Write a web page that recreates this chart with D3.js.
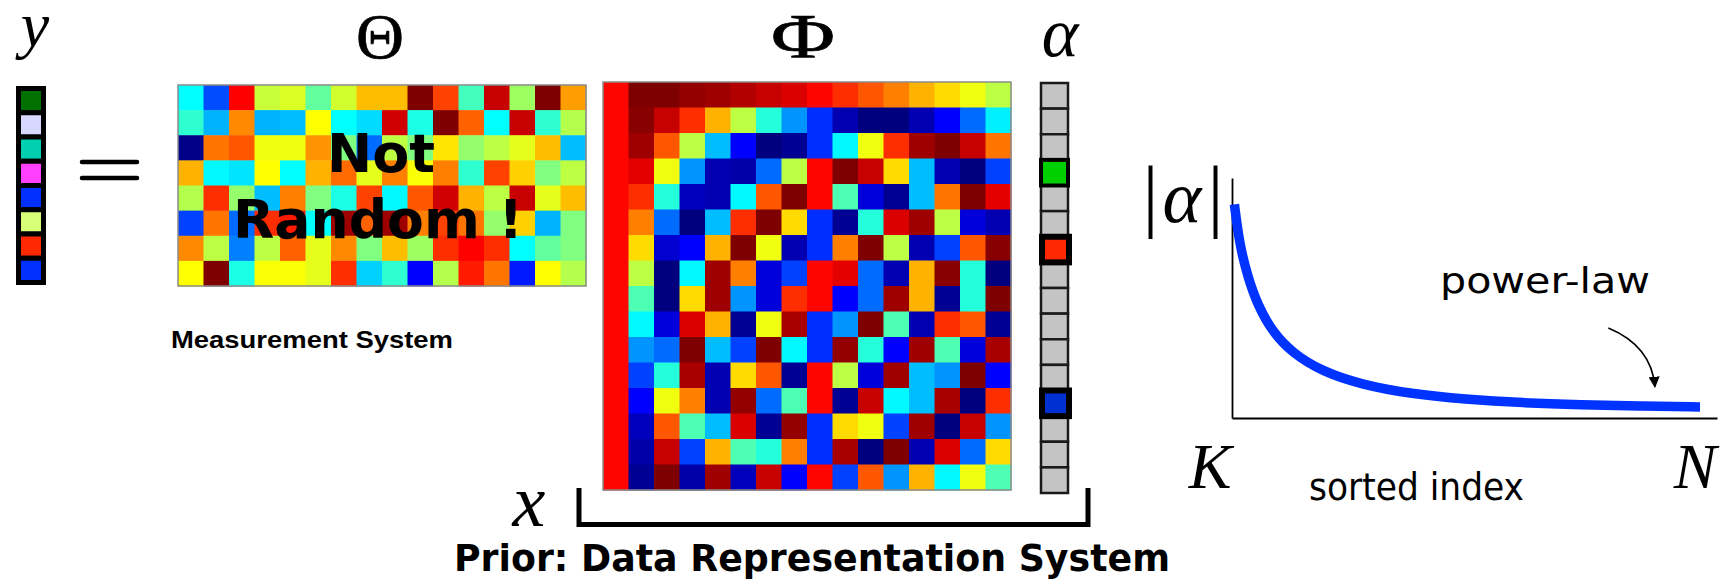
<!DOCTYPE html>
<html>
<head>
<meta charset="utf-8">
<script src="https://cdn.jsdelivr.net/npm/d3@7"></script>
<style>
  body { margin: 0; background: #fff; }
  svg { display: block; }
</style>
</head>
<body>
<div id="fig"></div>
<script>
// y = Theta * Phi * alpha  (values 0..1 on the jet colour map)
var yColors = ["#007000", "#d8d8ff", "#00d0b0", "#ff40ff", "#0030ff", "#d8ff78", "#ff2800", "#0030ff"];

var thetaValues = [
  [0.375, 0.20, 0.875, 0.57, 0.59, 0.47, 0.58, 0.69, 0.69, 1.00, 0.81, 0.44, 0.93, 0.53, 1.00, 0.72],
  [0.42, 0.30, 0.74, 0.30, 0.31, 0.625, 0.375, 0.34, 0.92, 0.40, 1.00, 0.78, 0.375, 0.93, 0.42, 0.55],
  [0.01, 0.76, 0.79, 0.61, 0.61, 0.73, 0.50, 0.23, 0.56, 0.50, 0.65, 0.52, 0.56, 0.60, 0.69, 0.31],
  [0.70, 0.37, 0.35, 0.625, 0.375, 0.70, 0.77, 0.60, 0.75, 0.62, 0.75, 0.42, 0.81, 0.67, 0.50, 0.56],
  [0.55, 0.83, 0.52, 0.31, 0.75, 0.50, 0.40, 0.81, 0.37, 0.79, 0.92, 0.70, 0.56, 0.93, 0.60, 0.69],
  [0.19, 0.76, 0.23, 0.83, 0.85, 0.375, 0.97, 0.78, 0.97, 0.75, 0.81, 0.76, 0.52, 0.67, 0.30, 0.50],
  [0.74, 0.56, 0.25, 0.56, 0.78, 0.60, 0.74, 0.50, 0.69, 0.53, 0.83, 0.875, 0.83, 0.375, 0.47, 0.50],
  [0.625, 1.00, 0.40, 0.62, 0.62, 0.60, 0.83, 0.33, 0.42, 0.125, 0.55, 0.85, 0.76, 0.15, 0.625, 0.55]
];

var phiValues = [
  [0.87, 1.00, 1.00, 0.98, 0.97, 0.95, 0.93, 0.91, 0.87, 0.83, 0.79, 0.75, 0.70, 0.66, 0.61, 0.56],
  [0.87, 0.99, 0.93, 0.83, 0.70, 0.56, 0.41, 0.27, 0.17, 0.05, 0.00, 0.00, 0.05, 0.125, 0.23, 0.36],
  [0.87, 0.97, 0.79, 0.56, 0.31, 0.125, 0.00, 0.02, 0.17, 0.37, 0.61, 0.83, 0.97, 1.00, 0.93, 0.76],
  [0.87, 0.90, 0.61, 0.27, 0.05, 0.04, 0.23, 0.56, 0.87, 1.00, 0.93, 0.66, 0.31, 0.05, 0.00, 0.19],
  [0.87, 0.83, 0.41, 0.06, 0.05, 0.37, 0.79, 1.00, 0.87, 0.45, 0.09, 0.02, 0.31, 0.76, 1.00, 0.90],
  [0.87, 0.75, 0.23, 0.00, 0.31, 0.83, 1.00, 0.66, 0.17, 0.02, 0.41, 0.91, 0.97, 0.56, 0.09, 0.05],
  [0.87, 0.66, 0.08, 0.125, 0.70, 1.00, 0.61, 0.05, 0.17, 0.75, 1.00, 0.56, 0.05, 0.19, 0.79, 0.99],
  [0.87, 0.56, 0.00, 0.37, 0.97, 0.75, 0.09, 0.19, 0.87, 0.90, 0.23, 0.05, 0.70, 0.99, 0.41, 0.00],
  [0.87, 0.45, 0.00, 0.66, 0.97, 0.27, 0.09, 0.83, 0.87, 0.125, 0.23, 0.97, 0.70, 0.02, 0.41, 1.00],
  [0.87, 0.37, 0.09, 0.91, 0.70, 0.02, 0.61, 0.96, 0.17, 0.27, 1.00, 0.45, 0.05, 0.83, 0.79, 0.02],
  [0.87, 0.27, 0.23, 1.00, 0.31, 0.19, 1.00, 0.37, 0.17, 0.98, 0.41, 0.125, 0.97, 0.45, 0.09, 0.96],
  [0.87, 0.19, 0.41, 0.96, 0.05, 0.66, 0.79, 0.02, 0.87, 0.56, 0.09, 0.97, 0.31, 0.27, 1.00, 0.125],
  [0.87, 0.125, 0.61, 0.75, 0.05, 0.98, 0.23, 0.45, 0.87, 0.02, 0.93, 0.37, 0.31, 0.96, 0.00, 0.83],
  [0.87, 0.06, 0.79, 0.45, 0.31, 0.91, 0.02, 0.98, 0.17, 0.66, 0.61, 0.19, 0.97, 0.00, 0.93, 0.27],
  [0.87, 0.04, 0.93, 0.19, 0.70, 0.45, 0.41, 0.75, 0.17, 0.96, 0.00, 1.00, 0.05, 0.91, 0.23, 0.66],
  [0.87, 0.02, 1.00, 0.04, 0.97, 0.06, 0.93, 0.125, 0.87, 0.19, 0.79, 0.27, 0.70, 0.37, 0.61, 0.45]
];

// alpha: sparse, only three non-zero entries
var alphaColors = [null, null, null, "#00d000", null, null, "#ff2800", null,
                   null, null, null, null, "#0030d0", null, null, null];

// sorted |alpha| (power-law decay), index 0..100
var sortedIndex = [0.5, 1.5, 3.2, 5.3, 8.3, 12.5, 18.5, 26.5, 37, 48, 60, 72, 84, 96.5];
var sortedAbs   = [0.89, 0.73, 0.59, 0.47, 0.36, 0.27, 0.195, 0.14, 0.10, 0.078, 0.063, 0.055, 0.05, 0.046];
var indexLabels = ["K", "N"];

var width = 1724, height = 579;

var svg = d3.select("#fig").append("svg")
  .attr("width", width)
  .attr("height", height);

// jet colour map
var jet = d3.scaleLinear()
  .domain([0, 0.125, 0.375, 0.625, 0.875, 1])
  .range(["#00007f", "#0000ff", "#00ffff", "#ffff00", "#ff0000", "#7f0000"]);

function drawMatrix(values, x0, x1, y0, y1) {
  var nr = values.length, nc = values[0].length;
  var x = d3.scaleBand().domain(d3.range(nc)).range([x0, x1]);
  var y = d3.scaleBand().domain(d3.range(nr)).range([y0, y1]);
  var g = svg.append("g");
  values.forEach(function(row, i) {
    g.selectAll(null)
      .data(row)
    .enter().append("rect")
      .attr("x", function(d, j) { return x(j); })
      .attr("y", y(i))
      .attr("width", x.bandwidth() + 0.5)
      .attr("height", y.bandwidth() + 0.5)
      .attr("fill", function(d) { return jet(d); });
  });
  g.append("rect")
    .attr("x", x0).attr("y", y0)
    .attr("width", x1 - x0).attr("height", y1 - y0)
    .attr("fill", "none")
    .attr("stroke", "#8a8a8a")
    .attr("stroke-width", 1.5);
  return g;
}

// ---- y vector
var yBand = d3.scaleBand().domain(d3.range(yColors.length)).range([88.5, 282.5]);
svg.append("g").selectAll("rect")
  .data(yColors)
.enter().append("rect")
  .attr("x", 18.5)
  .attr("y", function(d, i) { return yBand(i); })
  .attr("width", 25)
  .attr("height", yBand.bandwidth())
  .attr("fill", function(d) { return d; })
  .attr("stroke", "#000")
  .attr("stroke-width", 5);

// equals sign
[162, 178].forEach(function(yy) {
  svg.append("line")
    .attr("x1", 82).attr("x2", 137)
    .attr("y1", yy).attr("y2", yy)
    .attr("stroke", "#000")
    .attr("stroke-width", 4.5)
    .attr("stroke-linecap", "round");
});

// ---- Theta
var theta = drawMatrix(thetaValues, 178, 586, 85, 286);
theta.append("text")
  .attr("x", 381).attr("y", 172)
  .attr("text-anchor", "middle")
  .style("font", "bold 54px 'DejaVu Sans'")
  .text("Not");
theta.append("text")
  .attr("x", 378).attr("y", 238)
  .attr("text-anchor", "middle")
  .attr("textLength", 290)
  .attr("lengthAdjust", "spacingAndGlyphs")
  .style("font", "bold 54px 'DejaVu Sans'")
  .text("Random !");

svg.append("text")
  .attr("x", 171).attr("y", 348)
  .attr("textLength", 282)
  .attr("lengthAdjust", "spacingAndGlyphs")
  .style("font", "bold 24px 'Liberation Sans'")
  .text("Measurement System");

// ---- Phi
drawMatrix(phiValues, 603, 1011, 82, 490);

// ---- alpha
var aBand = d3.scaleBand().domain(d3.range(alphaColors.length)).range([83, 493]);
var alphaG = svg.append("g");
alphaG.selectAll("rect.plain")
  .data(alphaColors.map(function(c, i) { return {c: c, i: i}; }).filter(function(d) { return !d.c; }))
.enter().append("rect")
  .attr("class", "plain")
  .attr("x", 1041)
  .attr("y", function(d) { return aBand(d.i); })
  .attr("width", 27)
  .attr("height", aBand.bandwidth())
  .attr("fill", "#c4c4c4")
  .attr("stroke", "#1a1a1a")
  .attr("stroke-width", 2.5);
alphaG.selectAll("rect.hot")
  .data(alphaColors.map(function(c, i) { return {c: c, i: i}; }).filter(function(d) { return d.c; }))
.enter().append("rect")
  .attr("class", "hot")
  .attr("x", function(d) { return d.i === 3 ? 1041 : 1042; })
  .attr("y", function(d) { return aBand(d.i); })
  .attr("width", 27)
  .attr("height", aBand.bandwidth())
  .attr("fill", function(d) { return d.c; })
  .attr("stroke", "#000")
  .attr("stroke-width", function(d) { return d.i === 3 ? 4 : 6; });

// bracket under Phi * alpha
svg.append("path")
  .attr("d", "M579,488 V524.5 H1088 V488")
  .attr("fill", "none")
  .attr("stroke", "#000")
  .attr("stroke-width", 5);

svg.append("text")
  .attr("x", 812).attr("y", 571)
  .attr("text-anchor", "middle")
  .attr("textLength", 716)
  .attr("lengthAdjust", "spacingAndGlyphs")
  .style("font", "bold 38px 'DejaVu Sans'")
  .text("Prior: Data Representation System");

// math labels
var mathFont = "'Liberation Serif', 'DejaVu Serif', serif";
function mathLabel(txt, x, y, size, italic) {
  return svg.append("text")
    .attr("x", x).attr("y", y)
    .attr("text-anchor", "middle")
    .style("font-family", mathFont)
    .style("font-size", size + "px")
    .style("font-style", italic ? "italic" : "normal")
    .text(txt);
}
mathLabel("y", 35, 46, 64, true);
mathLabel("\u0398", 380, 58, 64, false)
  .attr("stroke", "#000").attr("stroke-width", 0.7)
  .attr("textLength", 48).attr("lengthAdjust", "spacingAndGlyphs");
mathLabel("\u03A6", 803, 58, 64, false)
  .attr("stroke", "#000").attr("stroke-width", 0.7)
  .attr("textLength", 64).attr("lengthAdjust", "spacingAndGlyphs");
mathLabel("\u03B1", 1060, 56, 70, true);
mathLabel("x", 529, 526, 74, true);

// ---- power-law panel
var px = d3.scaleLinear().domain([0, 100]).range([1232, 1717]);
var py = d3.scaleLinear().domain([0, 1]).range([418, 178]);

var plot = svg.append("g");
plot.append("g")
  .attr("transform", "translate(0," + py(0) + ")")
  .call(d3.axisBottom(px).tickValues([]).tickSizeOuter(0))
  .select(".domain").attr("stroke-width", 1.8);
plot.append("g")
  .attr("transform", "translate(" + px(0) + ",0)")
  .call(d3.axisLeft(py).tickValues([]).tickSizeOuter(0))
  .select(".domain").attr("stroke-width", 1.8);

var line = d3.line()
  .x(function(d) { return px(d[0]); })
  .y(function(d) { return py(d[1]); })
  .curve(d3.curveBasis);

plot.append("path")
  .datum(d3.zip(sortedIndex, sortedAbs))
  .attr("d", line)
  .attr("fill", "none")
  .attr("stroke", "#0033ff")
  .attr("stroke-width", 9.5);

// |alpha| axis title
var yt = plot.append("text")
  .attr("x", 1183).attr("y", 222)
  .attr("text-anchor", "middle")
  .style("font-family", mathFont)
  .style("font-size", "80px");
yt.append("tspan").style("font-weight", "100").text("|");
yt.append("tspan").attr("dx", 4).style("font-style", "italic").style("font-size", "74px").text("\u03B1");
yt.append("tspan").attr("dx", 6).style("font-weight", "100").text("|");

// K / N at the ends of the index axis
plot.selectAll("text.idx")
  .data(indexLabels)
.enter().append("text")
  .attr("class", "idx")
  .attr("x", function(d, i) { return px(i === 0 ? 0 : 100) - 22; })
  .attr("y", 488)
  .attr("text-anchor", "middle")
  .style("font-family", mathFont)
  .style("font-style", "italic")
  .style("font-size", "64px")
  .text(function(d) { return d; });

plot.append("text")
  .attr("x", 1309).attr("y", 500)
  .attr("textLength", 215)
  .attr("lengthAdjust", "spacingAndGlyphs")
  .style("font", "37px 'DejaVu Sans'")
  .text("sorted index");

plot.append("text")
  .attr("x", 1440).attr("y", 293)
  .attr("textLength", 210)
  .attr("lengthAdjust", "spacingAndGlyphs")
  .style("font", "36px 'DejaVu Sans'")
  .text("power-law");

// arrow pointing at the tail
svg.append("defs").append("marker")
  .attr("id", "head")
  .attr("viewBox", "0 0 10 10")
  .attr("refX", 9).attr("refY", 5)
  .attr("markerWidth", 7).attr("markerHeight", 7)
  .attr("orient", "auto")
.append("path")
  .attr("d", "M0,0 L10,5 L0,10 z")
  .attr("fill", "#000");

var arrowPts = [[77.6, 0.375], [86.5, 0.30], [87.2, 0.13]];
plot.append("path")
  .attr("d", "M" + px(arrowPts[0][0]) + "," + py(arrowPts[0][1]) +
             " Q" + px(arrowPts[1][0]) + "," + py(arrowPts[1][1]) +
             " " + px(arrowPts[2][0]) + "," + py(arrowPts[2][1]))
  .attr("fill", "none")
  .attr("stroke", "#000")
  .attr("stroke-width", 1.6)
  .attr("marker-end", "url(#head)");
</script>
</body>
</html>
